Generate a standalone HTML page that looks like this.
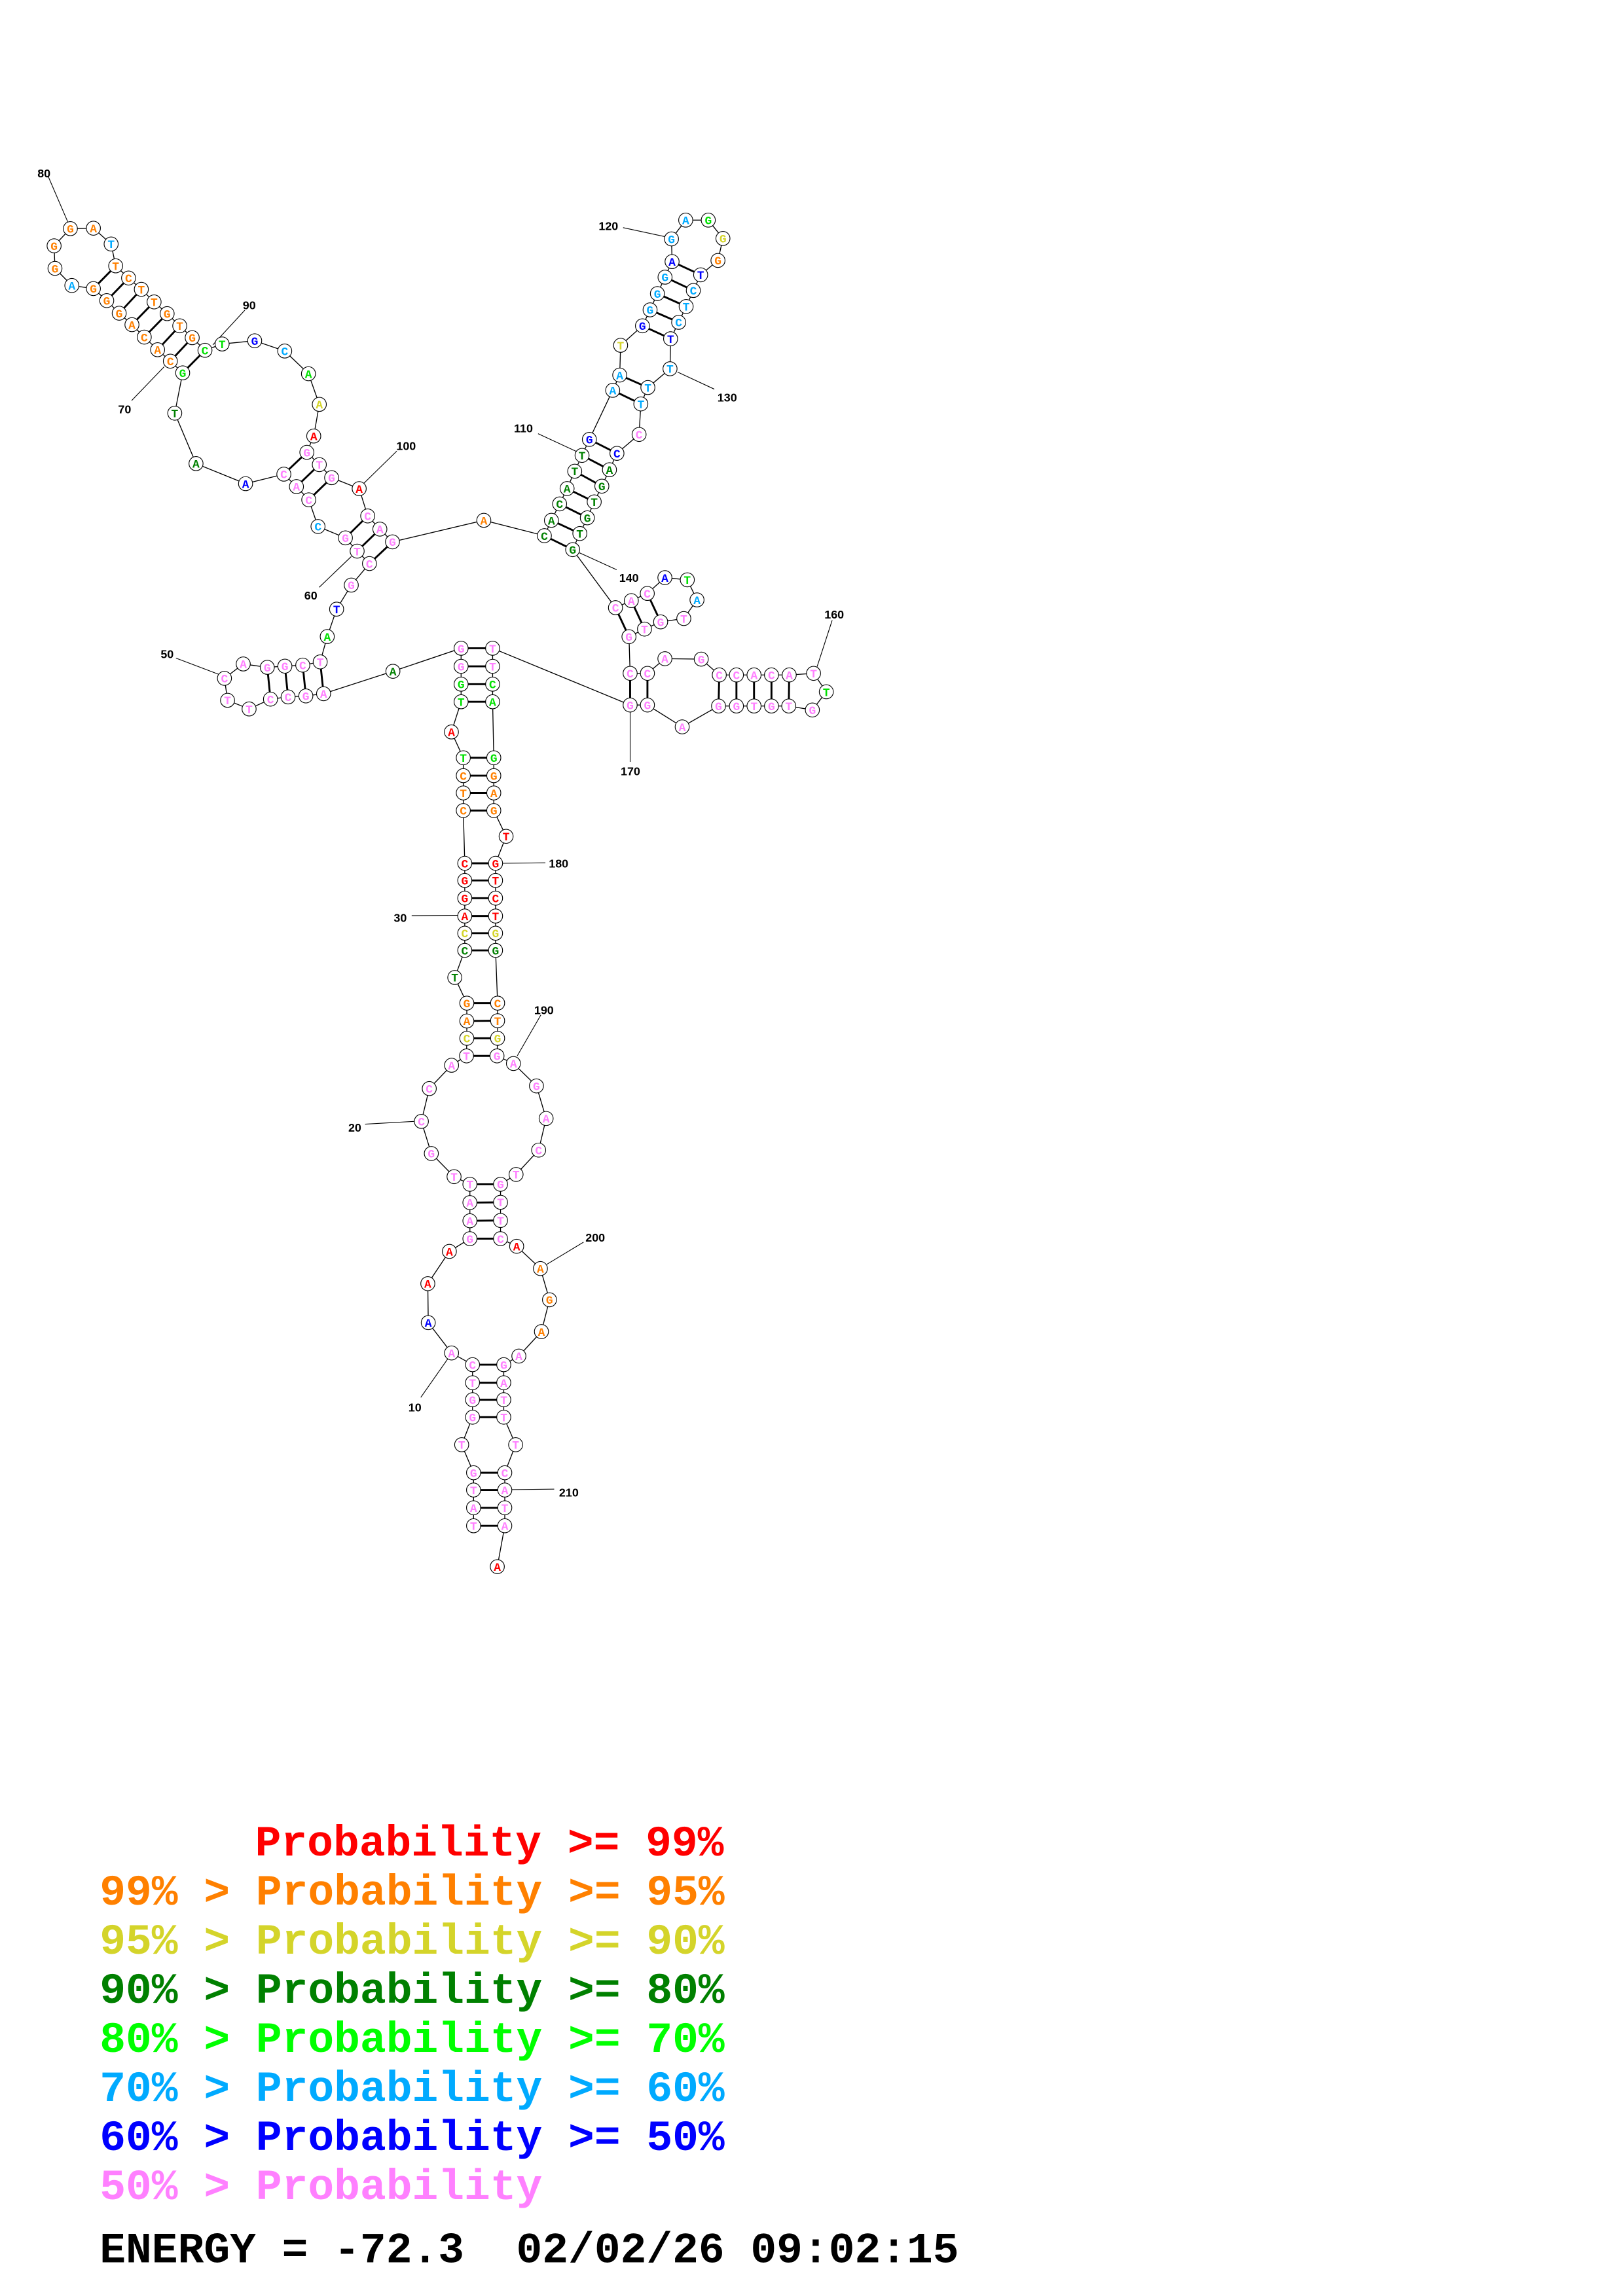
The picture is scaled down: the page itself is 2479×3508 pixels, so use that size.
<!DOCTYPE html>
<html><head><meta charset="utf-8"><style>
html,body{margin:0;padding:0;background:#fff;}
svg{display:block;}
.n circle{fill:#fff;stroke:#000;stroke-width:0.5;}
.t text{font-family:"Liberation Mono",monospace;font-weight:bold;font-size:8px;text-anchor:middle;}
.lb text{font-family:"Liberation Sans",sans-serif;font-weight:bold;font-size:8px;text-anchor:middle;fill:#000;}
.lg text{font-family:"Liberation Mono",monospace;font-weight:bold;font-size:29.6px;}
</style></head><body>
<svg width="2479" height="3508" viewBox="0 0 1107 1566.5" preserveAspectRatio="none" xmlns="http://www.w3.org/2000/svg">
<rect width="1107" height="1566.5" fill="#fff"/>
<polyline fill="none" stroke="#000" stroke-width="0.6" points="
323,1041 323,1028.7 323,1016.6 323,1004.8 314.9,985.7 322.3,966.9 322.3,955 322.3,943.4 322.3,931.1 308,923.1
292.1,902.4 291.8,875.8 306.5,853.8 320.5,845.1 320.5,832.9 320.5,820.5 320.5,808 309.7,802.8 294.2,787 287.4,765.1
292.8,742.7 308,726.8 318.2,720.4 318.4,708.4 318.4,696.6 318.4,684.4 310.2,666.9 317,648.4 317,636.7 317,625
317,612.8 317,600.7 317,589 316,553 316,541 316,529.2 316,517 307.9,499.4 314.5,478.8 314.5,466.8
314.5,454.6 314.5,442.3 268,458 220.7,473.3 208.6,474.8 196.5,475.5 184.5,477 169.9,483.7 155.2,477.8 153.1,462.8
165.9,453 182.3,455.3 194.3,454.5 206.5,453.8 218.4,451.6 223.2,434.3 229.6,415.6 239.6,399.2 252,384.5 243.6,376
235.6,367 216.9,359.2 210.6,341 202.2,332 193.6,323.5 167.5,330 133.7,316.3 119.2,281.9 124.6,254.4 116.2,246.4
107.5,238.6 98.4,230 90,221.5 81.3,213.7 72.8,205.1 63.7,196.9 49,194.8 37.5,183.1 36.9,167.7 48,156
63.7,155.7 75.8,166.5 78.9,181.4 87.7,189.7 96.4,197.4 105.1,206 114,214 122.6,222.3 131.1,230.4 139.8,239
151.5,234.7 173.7,232.5 194.2,239.5 210.4,255 217.8,275.9 214,297.5 209.3,308.6 217.8,317 226.2,325.9 245,333.4
250.8,352 259.1,361 267.7,369.7 330,355 371.3,365.5 376.1,355 381.7,343.8 386.8,333.3 392,321.5 397,310.7
402,299.8 417.9,266.3 422.7,255.9 423.3,235.6 438.2,222.3 443.4,211.4 448.4,200.3 453.6,189.1 458.4,178.5 458,163
467.7,150.2 483.1,150.2 493.1,162.7 489.7,177.7 477.9,187.5 472.9,198.2 468,209.1 462.9,219.9 457.4,231.1 457,251.6
441.9,264.4 437.1,275.6 435.9,296.4 420.8,309.3 415.7,320.5 410.5,331.7 405.3,342.4 400.6,353.3 395.5,364 390.6,375
419.8,414.6 430.6,409.8 441.5,404.9 453.5,394.1 468.8,395.6 475.4,409.3 466.4,422 450.6,424.3 439.6,429.2 429,434.4
429.8,459.4 441.6,459.4 453.5,449.4 478.3,449.7 490.6,460.5 502.3,460.5 514.3,460.5 526.2,460.5 538.3,460.5 554.9,459.4
563.6,472 554.1,484.4 538,481.7 526.2,481.7 514.3,481.7 502.3,481.7 490.1,481.7 465.3,495.9 441.6,481 429.8,481
336,442.3 336,454.6 336,466.8 336,478.8 336.8,517 336.8,529.2 336.8,541 336.8,553 345.2,570.6 338,589
338,600.7 338,612.8 338,625 338,636.7 338,648.4 339.4,684.4 339.4,696.4 339.4,708.4 339,720.4 350.2,725.6
365.9,740.9 372.5,763.1 367.4,784.7 352,801.3 341.4,808 341.4,820.3 341.4,832.7 341.4,845.1 352.4,850.3 368.6,865.5
374.8,886.8 369.3,908.5 353.9,925.2 343.6,931.1 343.6,943.4 343.6,955 343.6,966.9 351.7,985.7 344.3,1004.8 344.3,1016.6
344.3,1028.7 344.3,1041 339.2,1068.9"/>
<g stroke="#000" stroke-width="1.3">
<line x1="323" y1="1041" x2="344.3" y2="1041"/><line x1="323" y1="1028.7" x2="344.3" y2="1028.7"/>
<line x1="323" y1="1016.6" x2="344.3" y2="1016.6"/><line x1="323" y1="1004.8" x2="344.3" y2="1004.8"/>
<line x1="322.3" y1="966.9" x2="343.6" y2="966.9"/><line x1="322.3" y1="955" x2="343.6" y2="955"/>
<line x1="322.3" y1="943.4" x2="343.6" y2="943.4"/><line x1="322.3" y1="931.1" x2="343.6" y2="931.1"/>
<line x1="320.5" y1="845.1" x2="341.4" y2="845.1"/><line x1="320.5" y1="832.9" x2="341.4" y2="832.7"/>
<line x1="320.5" y1="820.5" x2="341.4" y2="820.3"/><line x1="320.5" y1="808" x2="341.4" y2="808"/>
<line x1="318.2" y1="720.4" x2="339" y2="720.4"/><line x1="318.4" y1="708.4" x2="339.4" y2="708.4"/>
<line x1="318.4" y1="696.6" x2="339.4" y2="696.4"/><line x1="318.4" y1="684.4" x2="339.4" y2="684.4"/>
<line x1="317" y1="648.4" x2="338" y2="648.4"/><line x1="317" y1="636.7" x2="338" y2="636.7"/>
<line x1="317" y1="625" x2="338" y2="625"/><line x1="317" y1="612.8" x2="338" y2="612.8"/>
<line x1="317" y1="600.7" x2="338" y2="600.7"/><line x1="317" y1="589" x2="338" y2="589"/>
<line x1="316" y1="553" x2="336.8" y2="553"/><line x1="316" y1="541" x2="336.8" y2="541"/>
<line x1="316" y1="529.2" x2="336.8" y2="529.2"/><line x1="316" y1="517" x2="336.8" y2="517"/>
<line x1="314.5" y1="478.8" x2="336" y2="478.8"/><line x1="314.5" y1="466.8" x2="336" y2="466.8"/>
<line x1="314.5" y1="454.6" x2="336" y2="454.6"/><line x1="314.5" y1="442.3" x2="336" y2="442.3"/>
<line x1="220.7" y1="473.3" x2="218.4" y2="451.6"/><line x1="208.6" y1="474.8" x2="206.5" y2="453.8"/>
<line x1="196.5" y1="475.5" x2="194.3" y2="454.5"/><line x1="184.5" y1="477" x2="182.3" y2="455.3"/>
<line x1="252" y1="384.5" x2="267.7" y2="369.7"/><line x1="243.6" y1="376" x2="259.1" y2="361"/>
<line x1="235.6" y1="367" x2="250.8" y2="352"/><line x1="210.6" y1="341" x2="226.2" y2="325.9"/>
<line x1="202.2" y1="332" x2="217.8" y2="317"/><line x1="193.6" y1="323.5" x2="209.3" y2="308.6"/>
<line x1="124.6" y1="254.4" x2="139.8" y2="239"/><line x1="116.2" y1="246.4" x2="131.1" y2="230.4"/>
<line x1="107.5" y1="238.6" x2="122.6" y2="222.3"/><line x1="98.4" y1="230" x2="114" y2="214"/>
<line x1="90" y1="221.5" x2="105.1" y2="206"/><line x1="81.3" y1="213.7" x2="96.4" y2="197.4"/>
<line x1="72.8" y1="205.1" x2="87.7" y2="189.7"/><line x1="63.7" y1="196.9" x2="78.9" y2="181.4"/>
<line x1="371.3" y1="365.5" x2="390.6" y2="375"/><line x1="376.1" y1="355" x2="395.5" y2="364"/>
<line x1="381.7" y1="343.8" x2="400.6" y2="353.3"/><line x1="386.8" y1="333.3" x2="405.3" y2="342.4"/>
<line x1="392" y1="321.5" x2="410.5" y2="331.7"/><line x1="397" y1="310.7" x2="415.7" y2="320.5"/>
<line x1="402" y1="299.8" x2="420.8" y2="309.3"/>
<line x1="417.9" y1="266.3" x2="437.1" y2="275.6"/><line x1="422.7" y1="255.9" x2="441.9" y2="264.4"/>
<line x1="438.2" y1="222.3" x2="457.4" y2="231.1"/><line x1="443.4" y1="211.4" x2="462.9" y2="219.9"/>
<line x1="448.4" y1="200.3" x2="468" y2="209.1"/><line x1="453.6" y1="189.1" x2="472.9" y2="198.2"/>
<line x1="458.4" y1="178.5" x2="477.9" y2="187.5"/>
<line x1="419.8" y1="414.6" x2="429" y2="434.4"/><line x1="430.6" y1="409.8" x2="439.6" y2="429.2"/>
<line x1="441.5" y1="404.9" x2="450.6" y2="424.3"/>
<line x1="429.8" y1="459.4" x2="429.8" y2="481"/><line x1="441.6" y1="459.4" x2="441.6" y2="481"/>
<line x1="490.6" y1="460.5" x2="490.1" y2="481.7"/><line x1="502.3" y1="460.5" x2="502.3" y2="481.7"/>
<line x1="514.3" y1="460.5" x2="514.3" y2="481.7"/><line x1="526.2" y1="460.5" x2="526.2" y2="481.7"/>
<line x1="538.3" y1="460.5" x2="538" y2="481.7"/>
</g>
<g stroke="#000" stroke-width="0.5">
<line x1="32.9" y1="120.4" x2="46.4" y2="151.8"/><line x1="167" y1="211.6" x2="145.2" y2="235.3"/>
<line x1="89.8" y1="273.3" x2="112" y2="250.2"/><line x1="270.6" y1="307.8" x2="247.9" y2="330"/>
<line x1="217.7" y1="400.7" x2="239.6" y2="379.7"/><line x1="120" y1="449" x2="149" y2="460"/>
<line x1="367" y1="295.9" x2="392.9" y2="307.9"/><line x1="425" y1="155.3" x2="453.3" y2="161.4"/>
<line x1="462.1" y1="253.8" x2="487.2" y2="265.5"/><line x1="395.3" y1="377.2" x2="420.6" y2="388.7"/>
<line x1="567.6" y1="423.2" x2="557.3" y2="454.9"/><line x1="429.8" y1="485.5" x2="429.8" y2="519.8"/>
<line x1="343" y1="589" x2="372" y2="588.7"/><line x1="280.8" y1="624.7" x2="312.7" y2="624.5"/>
<line x1="368.9" y1="692.5" x2="352.8" y2="720.4"/><line x1="249" y1="767" x2="282.5" y2="765.1"/>
<line x1="398" y1="847.5" x2="373" y2="862.6"/><line x1="287" y1="953.4" x2="305.4" y2="927.1"/>
<line x1="348.7" y1="1016.3" x2="378" y2="1016"/>
</g>
<g class="lb">
<text x="30" y="121">80</text><text x="170" y="211">90</text><text x="85" y="282">70</text>
<text x="277" y="307">100</text><text x="212" y="409">60</text><text x="114" y="449">50</text>
<text x="357" y="295">110</text><text x="415" y="157">120</text><text x="496" y="274">130</text>
<text x="429" y="397">140</text><text x="569" y="422">160</text><text x="430" y="529">170</text>
<text x="381" y="592">180</text><text x="273" y="629">30</text><text x="371" y="692">190</text>
<text x="242" y="772">20</text><text x="406" y="847">200</text><text x="283" y="963">10</text>
<text x="388" y="1021">210</text>
</g>
<g class="n">
<circle cx="323" cy="1041" r="4.8"/><circle cx="323" cy="1028.7" r="4.8"/><circle cx="323" cy="1016.6" r="4.8"/><circle cx="323" cy="1004.8" r="4.8"/><circle cx="314.9" cy="985.7" r="4.8"/><circle cx="322.3" cy="966.9" r="4.8"/><circle cx="322.3" cy="955" r="4.8"/><circle cx="322.3" cy="943.4" r="4.8"/><circle cx="322.3" cy="931.1" r="4.8"/><circle cx="308" cy="923.1" r="4.8"/>
<circle cx="292.1" cy="902.4" r="4.8"/><circle cx="291.8" cy="875.8" r="4.8"/><circle cx="306.5" cy="853.8" r="4.8"/><circle cx="320.5" cy="845.1" r="4.8"/><circle cx="320.5" cy="832.9" r="4.8"/><circle cx="320.5" cy="820.5" r="4.8"/><circle cx="320.5" cy="808" r="4.8"/><circle cx="309.7" cy="802.8" r="4.8"/><circle cx="294.2" cy="787" r="4.8"/><circle cx="287.4" cy="765.1" r="4.8"/>
<circle cx="292.8" cy="742.7" r="4.8"/><circle cx="308" cy="726.8" r="4.8"/><circle cx="318.2" cy="720.4" r="4.8"/><circle cx="318.4" cy="708.4" r="4.8"/><circle cx="318.4" cy="696.6" r="4.8"/><circle cx="318.4" cy="684.4" r="4.8"/><circle cx="310.2" cy="666.9" r="4.8"/><circle cx="317" cy="648.4" r="4.8"/><circle cx="317" cy="636.7" r="4.8"/><circle cx="317" cy="625" r="4.8"/>
<circle cx="317" cy="612.8" r="4.8"/><circle cx="317" cy="600.7" r="4.8"/><circle cx="317" cy="589" r="4.8"/><circle cx="316" cy="553" r="4.8"/><circle cx="316" cy="541" r="4.8"/><circle cx="316" cy="529.2" r="4.8"/><circle cx="316" cy="517" r="4.8"/><circle cx="307.9" cy="499.4" r="4.8"/><circle cx="314.5" cy="478.8" r="4.8"/><circle cx="314.5" cy="466.8" r="4.8"/>
<circle cx="314.5" cy="454.6" r="4.8"/><circle cx="314.5" cy="442.3" r="4.8"/><circle cx="268" cy="458" r="4.8"/><circle cx="220.7" cy="473.3" r="4.8"/><circle cx="208.6" cy="474.8" r="4.8"/><circle cx="196.5" cy="475.5" r="4.8"/><circle cx="184.5" cy="477" r="4.8"/><circle cx="169.9" cy="483.7" r="4.8"/><circle cx="155.2" cy="477.8" r="4.8"/><circle cx="153.1" cy="462.8" r="4.8"/>
<circle cx="165.9" cy="453" r="4.8"/><circle cx="182.3" cy="455.3" r="4.8"/><circle cx="194.3" cy="454.5" r="4.8"/><circle cx="206.5" cy="453.8" r="4.8"/><circle cx="218.4" cy="451.6" r="4.8"/><circle cx="223.2" cy="434.3" r="4.8"/><circle cx="229.6" cy="415.6" r="4.8"/><circle cx="239.6" cy="399.2" r="4.8"/><circle cx="252" cy="384.5" r="4.8"/><circle cx="243.6" cy="376" r="4.8"/>
<circle cx="235.6" cy="367" r="4.8"/><circle cx="216.9" cy="359.2" r="4.8"/><circle cx="210.6" cy="341" r="4.8"/><circle cx="202.2" cy="332" r="4.8"/><circle cx="193.6" cy="323.5" r="4.8"/><circle cx="167.5" cy="330" r="4.8"/><circle cx="133.7" cy="316.3" r="4.8"/><circle cx="119.2" cy="281.9" r="4.8"/><circle cx="124.6" cy="254.4" r="4.8"/><circle cx="116.2" cy="246.4" r="4.8"/>
<circle cx="107.5" cy="238.6" r="4.8"/><circle cx="98.4" cy="230" r="4.8"/><circle cx="90" cy="221.5" r="4.8"/><circle cx="81.3" cy="213.7" r="4.8"/><circle cx="72.8" cy="205.1" r="4.8"/><circle cx="63.7" cy="196.9" r="4.8"/><circle cx="49" cy="194.8" r="4.8"/><circle cx="37.5" cy="183.1" r="4.8"/><circle cx="36.9" cy="167.7" r="4.8"/><circle cx="48" cy="156" r="4.8"/>
<circle cx="63.7" cy="155.7" r="4.8"/><circle cx="75.8" cy="166.5" r="4.8"/><circle cx="78.9" cy="181.4" r="4.8"/><circle cx="87.7" cy="189.7" r="4.8"/><circle cx="96.4" cy="197.4" r="4.8"/><circle cx="105.1" cy="206" r="4.8"/><circle cx="114" cy="214" r="4.8"/><circle cx="122.6" cy="222.3" r="4.8"/><circle cx="131.1" cy="230.4" r="4.8"/><circle cx="139.8" cy="239" r="4.8"/>
<circle cx="151.5" cy="234.7" r="4.8"/><circle cx="173.7" cy="232.5" r="4.8"/><circle cx="194.2" cy="239.5" r="4.8"/><circle cx="210.4" cy="255" r="4.8"/><circle cx="217.8" cy="275.9" r="4.8"/><circle cx="214" cy="297.5" r="4.8"/><circle cx="209.3" cy="308.6" r="4.8"/><circle cx="217.8" cy="317" r="4.8"/><circle cx="226.2" cy="325.9" r="4.8"/><circle cx="245" cy="333.4" r="4.8"/>
<circle cx="250.8" cy="352" r="4.8"/><circle cx="259.1" cy="361" r="4.8"/><circle cx="267.7" cy="369.7" r="4.8"/><circle cx="330" cy="355" r="4.8"/><circle cx="371.3" cy="365.5" r="4.8"/><circle cx="376.1" cy="355" r="4.8"/><circle cx="381.7" cy="343.8" r="4.8"/><circle cx="386.8" cy="333.3" r="4.8"/><circle cx="392" cy="321.5" r="4.8"/><circle cx="397" cy="310.7" r="4.8"/>
<circle cx="402" cy="299.8" r="4.8"/><circle cx="417.9" cy="266.3" r="4.8"/><circle cx="422.7" cy="255.9" r="4.8"/><circle cx="423.3" cy="235.6" r="4.8"/><circle cx="438.2" cy="222.3" r="4.8"/><circle cx="443.4" cy="211.4" r="4.8"/><circle cx="448.4" cy="200.3" r="4.8"/><circle cx="453.6" cy="189.1" r="4.8"/><circle cx="458.4" cy="178.5" r="4.8"/><circle cx="458" cy="163" r="4.8"/>
<circle cx="467.7" cy="150.2" r="4.8"/><circle cx="483.1" cy="150.2" r="4.8"/><circle cx="493.1" cy="162.7" r="4.8"/><circle cx="489.7" cy="177.7" r="4.8"/><circle cx="477.9" cy="187.5" r="4.8"/><circle cx="472.9" cy="198.2" r="4.8"/><circle cx="468" cy="209.1" r="4.8"/><circle cx="462.9" cy="219.9" r="4.8"/><circle cx="457.4" cy="231.1" r="4.8"/><circle cx="457" cy="251.6" r="4.8"/>
<circle cx="441.9" cy="264.4" r="4.8"/><circle cx="437.1" cy="275.6" r="4.8"/><circle cx="435.9" cy="296.4" r="4.8"/><circle cx="420.8" cy="309.3" r="4.8"/><circle cx="415.7" cy="320.5" r="4.8"/><circle cx="410.5" cy="331.7" r="4.8"/><circle cx="405.3" cy="342.4" r="4.8"/><circle cx="400.6" cy="353.3" r="4.8"/><circle cx="395.5" cy="364" r="4.8"/><circle cx="390.6" cy="375" r="4.8"/>
<circle cx="419.8" cy="414.6" r="4.8"/><circle cx="430.6" cy="409.8" r="4.8"/><circle cx="441.5" cy="404.9" r="4.8"/><circle cx="453.5" cy="394.1" r="4.8"/><circle cx="468.8" cy="395.6" r="4.8"/><circle cx="475.4" cy="409.3" r="4.8"/><circle cx="466.4" cy="422" r="4.8"/><circle cx="450.6" cy="424.3" r="4.8"/><circle cx="439.6" cy="429.2" r="4.8"/><circle cx="429" cy="434.4" r="4.8"/>
<circle cx="429.8" cy="459.4" r="4.8"/><circle cx="441.6" cy="459.4" r="4.8"/><circle cx="453.5" cy="449.4" r="4.8"/><circle cx="478.3" cy="449.7" r="4.8"/><circle cx="490.6" cy="460.5" r="4.8"/><circle cx="502.3" cy="460.5" r="4.8"/><circle cx="514.3" cy="460.5" r="4.8"/><circle cx="526.2" cy="460.5" r="4.8"/><circle cx="538.3" cy="460.5" r="4.8"/><circle cx="554.9" cy="459.4" r="4.8"/>
<circle cx="563.6" cy="472" r="4.8"/><circle cx="554.1" cy="484.4" r="4.8"/><circle cx="538" cy="481.7" r="4.8"/><circle cx="526.2" cy="481.7" r="4.8"/><circle cx="514.3" cy="481.7" r="4.8"/><circle cx="502.3" cy="481.7" r="4.8"/><circle cx="490.1" cy="481.7" r="4.8"/><circle cx="465.3" cy="495.9" r="4.8"/><circle cx="441.6" cy="481" r="4.8"/><circle cx="429.8" cy="481" r="4.8"/>
<circle cx="336" cy="442.3" r="4.8"/><circle cx="336" cy="454.6" r="4.8"/><circle cx="336" cy="466.8" r="4.8"/><circle cx="336" cy="478.8" r="4.8"/><circle cx="336.8" cy="517" r="4.8"/><circle cx="336.8" cy="529.2" r="4.8"/><circle cx="336.8" cy="541" r="4.8"/><circle cx="336.8" cy="553" r="4.8"/><circle cx="345.2" cy="570.6" r="4.8"/><circle cx="338" cy="589" r="4.8"/>
<circle cx="338" cy="600.7" r="4.8"/><circle cx="338" cy="612.8" r="4.8"/><circle cx="338" cy="625" r="4.8"/><circle cx="338" cy="636.7" r="4.8"/><circle cx="338" cy="648.4" r="4.8"/><circle cx="339.4" cy="684.4" r="4.8"/><circle cx="339.4" cy="696.4" r="4.8"/><circle cx="339.4" cy="708.4" r="4.8"/><circle cx="339" cy="720.4" r="4.8"/><circle cx="350.2" cy="725.6" r="4.8"/>
<circle cx="365.9" cy="740.9" r="4.8"/><circle cx="372.5" cy="763.1" r="4.8"/><circle cx="367.4" cy="784.7" r="4.8"/><circle cx="352" cy="801.3" r="4.8"/><circle cx="341.4" cy="808" r="4.8"/><circle cx="341.4" cy="820.3" r="4.8"/><circle cx="341.4" cy="832.7" r="4.8"/><circle cx="341.4" cy="845.1" r="4.8"/><circle cx="352.4" cy="850.3" r="4.8"/><circle cx="368.6" cy="865.5" r="4.8"/>
<circle cx="374.8" cy="886.8" r="4.8"/><circle cx="369.3" cy="908.5" r="4.8"/><circle cx="353.9" cy="925.2" r="4.8"/><circle cx="343.6" cy="931.1" r="4.8"/><circle cx="343.6" cy="943.4" r="4.8"/><circle cx="343.6" cy="955" r="4.8"/><circle cx="343.6" cy="966.9" r="4.8"/><circle cx="351.7" cy="985.7" r="4.8"/><circle cx="344.3" cy="1004.8" r="4.8"/><circle cx="344.3" cy="1016.6" r="4.8"/>
<circle cx="344.3" cy="1028.7" r="4.8"/><circle cx="344.3" cy="1041" r="4.8"/><circle cx="339.2" cy="1068.9" r="4.8"/>
</g>
<g class="t">
<g fill="#ff80ff">
<text x="323" y="1043.8">T</text><text x="323" y="1031.5">A</text><text x="323" y="1019.4">T</text><text x="323" y="1007.6">G</text><text x="314.9" y="988.5">T</text><text x="322.3" y="969.7">G</text><text x="322.3" y="957.8">G</text><text x="322.3" y="946.2">T</text><text x="322.3" y="933.9">C</text><text x="308" y="925.9">A</text>
<text x="320.5" y="847.9">G</text><text x="320.5" y="835.7">A</text><text x="320.5" y="823.3">A</text><text x="320.5" y="810.8">T</text><text x="309.7" y="805.6">T</text><text x="294.2" y="789.8">G</text><text x="287.4" y="767.9">C</text><text x="292.8" y="745.5">C</text><text x="308" y="729.6">A</text><text x="318.2" y="723.2">T</text>
<text x="314.5" y="457.4">G</text><text x="314.5" y="445.1">G</text>
<text x="220.7" y="476.1">A</text><text x="208.6" y="477.6">G</text><text x="196.5" y="478.3">C</text><text x="184.5" y="479.8">C</text><text x="169.9" y="486.5">T</text><text x="155.2" y="480.6">T</text><text x="153.1" y="465.6">C</text><text x="165.9" y="455.8">A</text><text x="182.3" y="458.1">G</text><text x="194.3" y="457.3">G</text><text x="206.5" y="456.6">C</text><text x="218.4" y="454.4">T</text>
<text x="239.6" y="402">G</text><text x="252" y="387.3">C</text><text x="243.6" y="378.8">T</text><text x="235.6" y="369.8">G</text><text x="210.6" y="343.8">C</text><text x="202.2" y="334.8">A</text><text x="193.6" y="326.3">C</text>
<text x="209.3" y="311.4">G</text><text x="217.8" y="319.8">T</text><text x="226.2" y="328.7">G</text><text x="250.8" y="354.8">C</text><text x="259.1" y="363.8">A</text><text x="267.7" y="372.5">G</text>
<text x="435.9" y="299.2">C</text>
<text x="419.8" y="417.4">C</text><text x="430.6" y="412.6">A</text><text x="441.5" y="407.7">C</text><text x="466.4" y="424.8">T</text><text x="450.6" y="427.1">G</text><text x="439.6" y="432">T</text><text x="429" y="437.2">G</text>
<text x="429.8" y="462.2">C</text><text x="441.6" y="462.2">C</text><text x="453.5" y="452.2">A</text><text x="478.3" y="452.5">G</text><text x="490.6" y="463.3">C</text><text x="502.3" y="463.3">C</text><text x="514.3" y="463.3">A</text><text x="526.2" y="463.3">C</text><text x="538.3" y="463.3">A</text><text x="554.9" y="462.2">T</text>
<text x="554.1" y="487.2">G</text><text x="538" y="484.5">T</text><text x="526.2" y="484.5">G</text><text x="514.3" y="484.5">T</text><text x="502.3" y="484.5">G</text><text x="490.1" y="484.5">G</text><text x="465.3" y="498.7">A</text><text x="441.6" y="483.8">G</text><text x="429.8" y="483.8">G</text>
<text x="336" y="445.1">T</text><text x="336" y="457.4">T</text>
<text x="339" y="723.2">G</text><text x="350.2" y="728.4">A</text><text x="365.9" y="743.7">G</text><text x="372.5" y="765.9">A</text><text x="367.4" y="787.5">C</text><text x="352" y="804.1">T</text><text x="341.4" y="810.8">G</text><text x="341.4" y="823.1">T</text><text x="341.4" y="835.5">T</text><text x="341.4" y="847.9">C</text>
<text x="353.9" y="928">A</text><text x="343.6" y="933.9">G</text><text x="343.6" y="946.2">A</text><text x="343.6" y="957.8">T</text><text x="343.6" y="969.7">T</text><text x="351.7" y="988.5">T</text><text x="344.3" y="1007.6">C</text><text x="344.3" y="1019.4">A</text><text x="344.3" y="1031.5">T</text><text x="344.3" y="1043.8">A</text>
</g>
<g fill="#ff0000">
<text x="291.8" y="878.6">A</text><text x="306.5" y="856.6">A</text><text x="317" y="627.8">A</text><text x="317" y="615.6">G</text><text x="317" y="603.5">G</text><text x="317" y="591.8">C</text><text x="307.9" y="502.2">A</text>
<text x="214" y="300.3">A</text><text x="245" y="336.2">A</text>
<text x="345.2" y="573.4">T</text><text x="338" y="591.8">G</text><text x="338" y="603.5">T</text><text x="338" y="615.6">C</text><text x="338" y="627.8">T</text>
<text x="352.4" y="853.1">A</text><text x="339.2" y="1071.7">A</text>
</g>
<g fill="#ff8000">
<text x="318.4" y="699.4">A</text><text x="318.4" y="687.2">G</text><text x="316" y="555.8">C</text><text x="316" y="543.8">T</text><text x="316" y="532">C</text>
<text x="116.2" y="249.2">C</text><text x="107.5" y="241.4">A</text><text x="98.4" y="232.8">C</text><text x="90" y="224.3">A</text><text x="81.3" y="216.5">G</text><text x="72.8" y="207.9">G</text><text x="63.7" y="199.7">G</text>
<text x="37.5" y="185.9">G</text><text x="36.9" y="170.5">G</text><text x="48" y="158.8">G</text><text x="63.7" y="158.5">A</text>
<text x="78.9" y="184.2">T</text><text x="87.7" y="192.5">C</text><text x="96.4" y="200.2">T</text><text x="105.1" y="208.8">T</text><text x="114" y="216.8">G</text><text x="122.6" y="225.1">T</text><text x="131.1" y="233.2">G</text>
<text x="330" y="357.8">A</text><text x="489.7" y="180.5">G</text>
<text x="336.8" y="532">G</text><text x="336.8" y="543.8">A</text><text x="336.8" y="555.8">G</text><text x="339.4" y="687.2">C</text><text x="339.4" y="699.2">T</text>
<text x="368.6" y="868.3">A</text><text x="374.8" y="889.6">G</text><text x="369.3" y="911.3">A</text>
</g>
<g fill="#d4d42a">
<text x="318.4" y="711.2">C</text><text x="317" y="639.5">C</text><text x="217.8" y="278.7">A</text><text x="423.3" y="238.4">T</text><text x="493.1" y="165.5">G</text><text x="338" y="639.5">G</text><text x="339.4" y="711.2">G</text>
</g>
<g fill="#008000">
<text x="310.2" y="669.7">T</text><text x="317" y="651.2">C</text><text x="268" y="460.8">A</text><text x="133.7" y="319.1">A</text><text x="119.2" y="284.7">T</text>
<text x="371.3" y="368.3">C</text><text x="376.1" y="357.8">A</text><text x="381.7" y="346.6">C</text><text x="386.8" y="336.1">A</text><text x="392" y="324.3">T</text><text x="397" y="313.5">T</text>
<text x="415.7" y="323.3">A</text><text x="410.5" y="334.5">G</text><text x="405.3" y="345.2">T</text><text x="400.6" y="356.1">G</text><text x="395.5" y="366.8">T</text><text x="390.6" y="377.8">G</text>
<text x="338" y="651.2">G</text>
</g>
<g fill="#00e000">
<text x="316" y="519.8">T</text><text x="314.5" y="481.6">T</text><text x="314.5" y="469.6">G</text><text x="223.2" y="437.1">A</text><text x="124.6" y="257.2">G</text><text x="139.8" y="241.8">C</text><text x="151.5" y="237.5">T</text><text x="210.4" y="257.8">A</text>
<text x="483.1" y="153">G</text><text x="468.8" y="398.4">T</text><text x="563.6" y="474.8">T</text>
<text x="336" y="469.6">C</text><text x="336" y="481.6">A</text><text x="336.8" y="519.8">G</text>
</g>
<g fill="#00aaff">
<text x="216.9" y="362">C</text><text x="49" y="197.6">A</text><text x="75.8" y="169.3">T</text><text x="194.2" y="242.3">C</text>
<text x="417.9" y="269.1">A</text><text x="422.7" y="258.7">A</text><text x="443.4" y="214.2">G</text><text x="448.4" y="203.1">G</text><text x="453.6" y="191.9">G</text><text x="458" y="165.8">G</text><text x="467.7" y="153">A</text>
<text x="472.9" y="201">C</text><text x="468" y="211.9">T</text><text x="462.9" y="222.7">C</text><text x="457" y="254.4">T</text><text x="441.9" y="267.2">T</text><text x="437.1" y="278.4">T</text><text x="475.4" y="412.1">A</text>
</g>
<g fill="#0000ff">
<text x="292.1" y="905.2">A</text><text x="229.6" y="418.4">T</text><text x="167.5" y="332.8">A</text><text x="173.7" y="235.3">G</text>
<text x="402" y="302.6">G</text><text x="438.2" y="225.1">G</text><text x="458.4" y="181.3">A</text><text x="477.9" y="190.3">T</text><text x="457.4" y="233.9">T</text><text x="420.8" y="312.1">C</text><text x="453.5" y="396.9">A</text>
</g>
</g>
<g class="lg">
<text x="174" y="1266" fill="#ff0000">Probability &gt;= 99%</text>
<text x="68" y="1299.5" fill="#ff8000">99% &gt; Probability &gt;= 95%</text>
<text x="68" y="1333" fill="#d4d42a">95% &gt; Probability &gt;= 90%</text>
<text x="68" y="1366.5" fill="#008000">90% &gt; Probability &gt;= 80%</text>
<text x="68" y="1400" fill="#00ff00">80% &gt; Probability &gt;= 70%</text>
<text x="68" y="1433.5" fill="#00aaff">70% &gt; Probability &gt;= 60%</text>
<text x="68" y="1467" fill="#0000ff">60% &gt; Probability &gt;= 50%</text>
<text x="68" y="1500.5" fill="#ff80ff">50% &gt; Probability</text>
<text x="68" y="1543.5" fill="#000" xml:space="preserve">ENERGY = -72.3  02/02/26 09:02:15</text>
</g>
</svg>
</body></html>
